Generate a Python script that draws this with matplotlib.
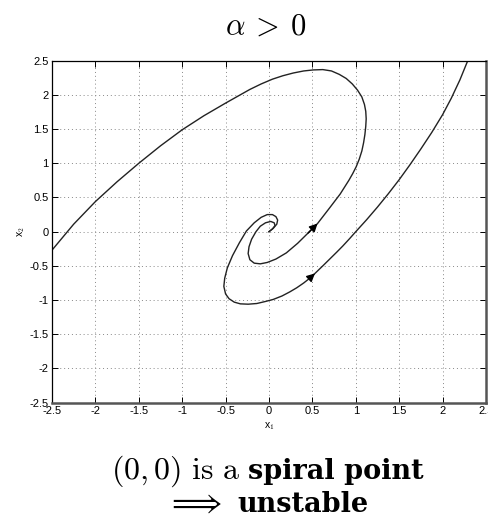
import numpy as np
import matplotlib
matplotlib.use("Agg")
import matplotlib.pyplot as plt

plt.rcParams["mathtext.fontset"] = "cm"
plt.rcParams["axes.unicode_minus"] = False

# Trajectory leaving the origin on the inner arm, exits through the left edge
x1_inner = [0.00, 0.04, 0.07, 0.06, 0.02, -0.04, -0.10, -0.15, -0.20, -0.23, -0.24, -0.22,
            -0.17, -0.10, -0.02, 0.08, 0.20, 0.33, 0.45, 0.56, 0.63, 0.70, 0.76, 0.82,
            0.87, 0.92, 0.965, 1.005, 1.04, 1.07, 1.09, 1.105, 1.115, 1.12, 1.115, 1.10,
            1.07, 1.02, 0.96, 0.89, 0.81, 0.72, 0.62, 0.51, 0.40, 0.28, 0.16, 0.04,
            -0.09, -0.22, -0.36, -0.50, -0.75, -1.00, -1.25, -1.50, -1.75, -2.00, -2.25,
            -2.50]
x2_inner = [0.00, 0.04, 0.09, 0.13, 0.15, 0.13, 0.08, 0.00, -0.11, -0.22, -0.32, -0.41,
            -0.46, -0.47, -0.45, -0.40, -0.31, -0.17, -0.02, 0.12, 0.235, 0.35, 0.45, 0.55,
            0.65, 0.75, 0.85, 0.95, 1.06, 1.18, 1.30, 1.42, 1.54, 1.65, 1.76, 1.86,
            1.97, 2.07, 2.16, 2.24, 2.30, 2.35, 2.37, 2.365, 2.35, 2.32, 2.28, 2.23,
            2.16, 2.08, 1.98, 1.88, 1.695, 1.49, 1.255, 1.00, 0.73, 0.44, 0.11,
            -0.27]

# Trajectory leaving the origin on the outer arm, exits through the top edge
x1_outer = [0.00, 0.05, 0.09, 0.10, 0.08, 0.04, -0.02, -0.09, -0.17, -0.26, -0.34, -0.42,
            -0.48, -0.51, -0.52, -0.50, -0.46, -0.40, -0.33, -0.24, -0.14, -0.04, 0.05,
            0.15, 0.24, 0.32, 0.40, 0.47, 0.53, 0.62, 0.70, 0.78, 0.85, 0.93, 1.00,
            1.125, 1.25, 1.375, 1.50, 1.625, 1.75, 1.875, 2.00, 2.10, 2.20, 2.29]
x2_outer = [0.00, 0.05, 0.11, 0.17, 0.22, 0.25, 0.25, 0.21, 0.13, 0.01, -0.16, -0.35,
            -0.53, -0.68, -0.80, -0.91, -0.98, -1.03, -1.055, -1.06, -1.05, -1.02, -0.99,
            -0.94, -0.88, -0.82, -0.75, -0.68, -0.61, -0.50, -0.40, -0.30, -0.21, -0.10, 0.00,
            0.175, 0.36, 0.555, 0.76, 0.98, 1.21, 1.45, 1.71, 1.95, 2.22, 2.50]

# index of the point where the direction arrow sits on each trajectory
arrow_inner = 19
arrow_outer = 28

ticks = np.arange(-2.5, 2.51, 0.5)

fig = plt.figure(figsize=(4.89, 5.21), dpi=100)
ax = fig.add_axes([0.1063, 0.2271, 0.8875, 0.6564])

for xs, ys, k in [(x1_inner, x2_inner, arrow_inner), (x1_outer, x2_outer, arrow_outer)]:
    ax.plot(xs, ys, color="#222222", lw=1.0, solid_joinstyle="round")
    ax.annotate("", xy=(xs[k], ys[k]), xytext=(xs[k - 1], ys[k - 1]),
                arrowprops=dict(arrowstyle="-|>", color="black", lw=1.0,
                                mutation_scale=12, shrinkA=0, shrinkB=0))

ax.set_xlim(-2.5, 2.5)
ax.set_ylim(-2.5, 2.5)
ax.set_xticks(ticks)
ax.set_yticks(ticks)
ax.set_xticklabels(["%g" % t for t in ticks])
ax.set_yticklabels(["%g" % t for t in ticks])
ax.tick_params(direction="in", top=True, right=True, length=4, width=0.7,
               labelsize=8, pad=2.5)
for lab in ax.get_xticklabels() + ax.get_yticklabels():
    lab.set_family("Liberation Sans")
ax.grid(True, linestyle=(0, (1, 3)), color="#888888", lw=0.7)

for side in ["top", "left"]:
    ax.spines[side].set_linewidth(0.9)
    ax.spines[side].set_color("black")
for side in ["bottom", "right"]:
    ax.spines[side].set_linewidth(1.8)
    ax.spines[side].set_color("#555555")

ax.set_xlabel("x$_1$", fontsize=7.5, family="Liberation Sans", labelpad=3)
ax.set_ylabel("x$_2$", fontsize=7.5, family="Liberation Sans", labelpad=2)

fig.text(0.545, 1 - 35 / 521, r"$\alpha\:>\:0$", ha="center", va="baseline", fontsize=22)

# caption lines: roman math part followed by a wide bold serif part, centred as a whole
renderer = fig.canvas.get_renderer()
W = fig.bbox.width


def caption(pieces, base_px, center_px=267, gap=8):
    texts = [fig.text(0, 1 - base_px / 521, s, va="baseline", ha="left", **kw)
             for s, kw in pieces]
    widths = [t.get_window_extent(renderer).width for t in texts]
    total = sum(widths) + gap * (len(texts) - 1)
    x = center_px - total / 2
    for t, w in zip(texts, widths):
        t.set_x(x / W)
        x += w + gap


bold = dict(family="DejaVu Serif", weight="bold", fontsize=19.5)
caption([(r"$(0,0)\ \mathrm{is\ a}$", dict(fontsize=23)), ("spiral point", bold)], 479)
caption([(r"$\Longrightarrow$", dict(fontsize=23)), ("unstable", bold)], 512, gap=15)

fig.savefig("out.png", dpi=100)
